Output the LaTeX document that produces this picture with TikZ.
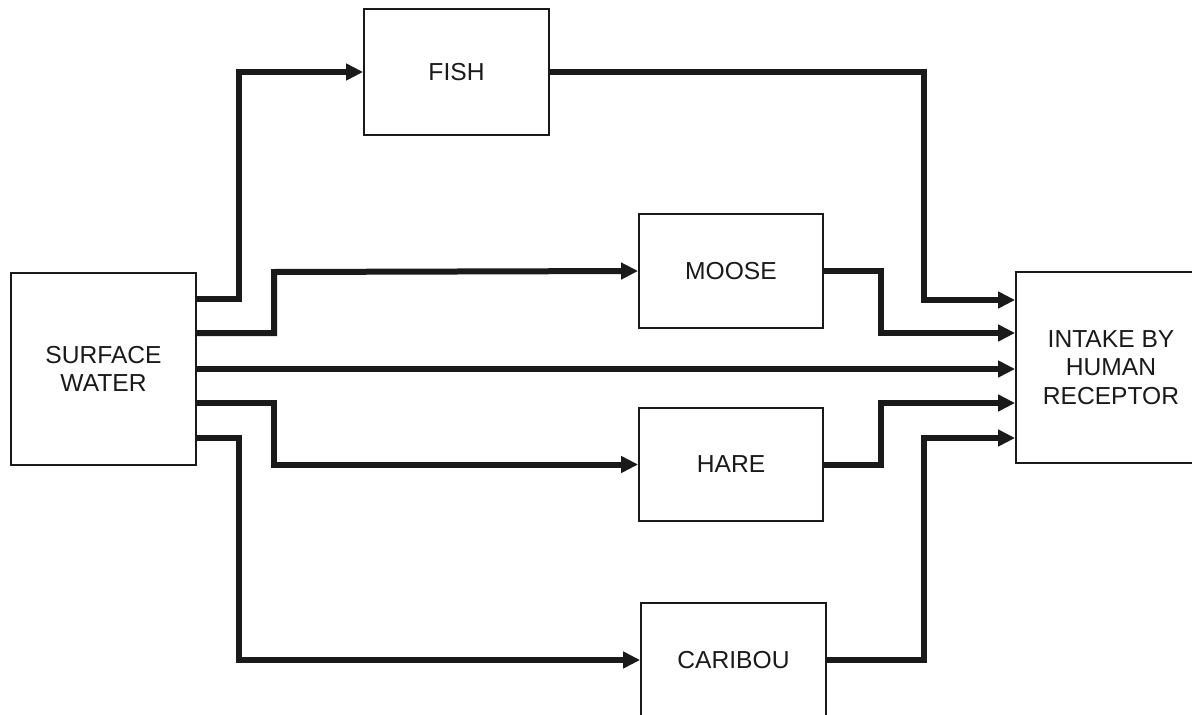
\documentclass[tikz,border=0pt]{standalone}
\usepackage{fontspec}
\setmainfont{Liberation Sans}
\usetikzlibrary{arrows.meta}
\definecolor{ink}{HTML}{1A1A1A}
\tikzset{
  box/.style={draw=ink, line width=1.8pt, inner sep=0pt, align=center,
    text=ink, font=\fontsize{24.6}{28.5}\selectfont},
  flow/.style={draw=ink, line width=6pt, -{Triangle[length=17pt,width=16pt]}},
  plain/.style={draw=ink, line width=6pt}
}
\begin{document}
\begin{tikzpicture}[x=1pt,y=-1pt]
\useasboundingbox (0,0) rectangle (1192,715);
\clip (0,0) rectangle (1192,715);
\fill[white] (0,0) rectangle (1192,715);
\node[box, minimum width=185pt, minimum height=192pt] (sw) at (103.5,369) {SURFACE\\WATER};
\node[box, minimum width=185pt, minimum height=126pt] (fish) at (456.5,72) {FISH};
\node[box, minimum width=184pt, minimum height=114pt] (moose) at (731,271) {MOOSE};
\node[box, minimum width=184pt, minimum height=113pt] (hare) at (731,464.5) {HARE};
\node[box, minimum width=185pt, minimum height=114pt] (caribou) at (733.5,660) {CARIBOU};
\node[box, minimum width=190pt, minimum height=191pt] (intake) at (1111,367.5) {INTAKE BY\\HUMAN\\RECEPTOR};
% from surface water
\draw[flow] (sw.east |- 0,299) -| (239,72) -- (fish.west);
\draw[flow] (sw.east |- 0,333) -| (274,272) -- (moose.west);
\draw[flow] (sw.east |- 0,369) -- (intake.west |- 0,369);
\draw[flow] (sw.east |- 0,403) -| (274,464.5) -- (hare.west);
\draw[flow] (sw.east |- 0,438) -| (239,660) -- (caribou.west);
% into intake
\draw[flow] (fish.east) -| (924,300) -- (intake.west |- 0,300);
\draw[flow] (moose.east) -| (881,333) -- (intake.west |- 0,333);
\draw[flow] (hare.east) -| (881,403) -- (intake.west |- 0,403);
\draw[flow] (caribou.east) -| (924,438) -- (intake.west |- 0,438);
\end{tikzpicture}
\end{document}
